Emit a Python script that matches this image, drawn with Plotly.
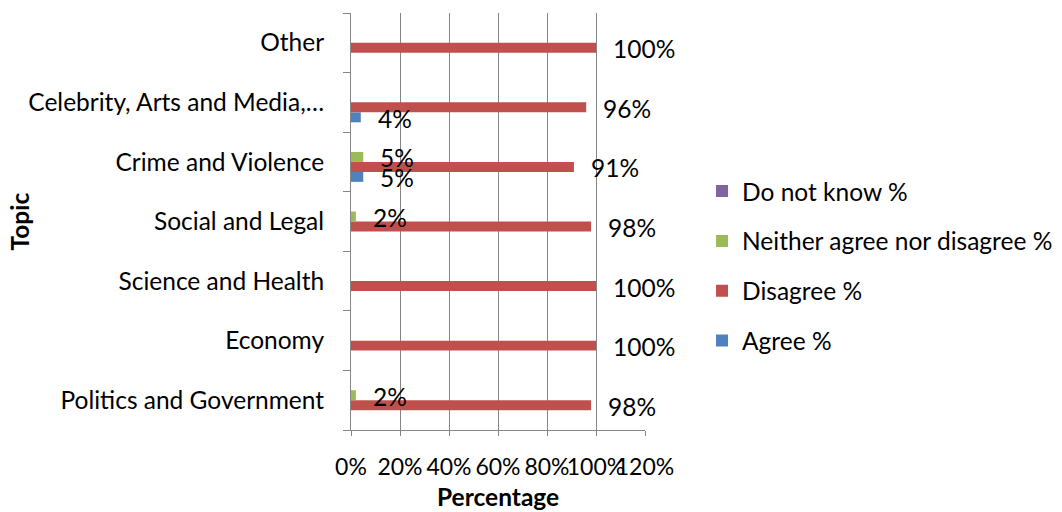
import plotly.graph_objects as go

# Topics, listed bottom to top
topics = [
    "Politics and Government",
    "Economy",
    "Science and Health",
    "Social and Legal",
    "Crime and Violence",
    "Celebrity, Arts and Media,…",
    "Other",
]

# Response shares (%) per topic
agree = [0, 0, 0, 0, 5, 4, 0]
disagree = [98, 100, 100, 98, 91, 96, 100]
neither = [2, 0, 0, 2, 5, 0, 0]
dont_know = [0, 0, 0, 0, 0, 0, 0]

x_ticks = [0, 20, 40, 60, 80, 100, 120]
x_tick_labels = ["0%", "20%", "40%", "60%", "80%", "100%", "120%"]

series = [
    ("Agree %", agree, "#4F81BD"),
    ("Disagree %", disagree, "#C0504D"),
    ("Neither agree nor disagree %", neither, "#9BBB59"),
    ("Do not know %", dont_know, "#8064A2"),
]

FONT = "Lato"
FS = 24.5
AXIS_GREY = "#868686"

fig = go.Figure()
for i, (name, vals, color) in enumerate(series):
    fig.add_trace(go.Bar(
        y=topics, x=vals, name=name, orientation="h",
        marker=dict(color=color, line=dict(width=0)),
        legendgroup=name, legendrank=len(series) - i,
    ))

# Data labels beside the bar ends, one slot per series within each group
slot_px = 10
annotations = []
for i, (name, vals, color) in enumerate(series):
    offset = (i - 1.5) * slot_px
    for topic, v in zip(topics, vals):
        if v:
            annotations.append(dict(
                x=v, y=topic, xref="x", yref="y", text=f"{v}%",
                showarrow=False, xanchor="left", yanchor="middle",
                xshift=15, yshift=offset - 1,
                font=dict(family=FONT, size=FS, color="#000"),
            ))

annotations.append(dict(
    x=0.5, y=-0.16, xref="paper", yref="paper", text="<b>Percentage</b>",
    showarrow=False, xanchor="center", yanchor="middle",
    font=dict(family=FONT, size=FS, color="#000"),
))
annotations.append(dict(
    x=-1.129, y=0.5, xref="paper", yref="paper", text="<b>Topic</b>",
    showarrow=False, xanchor="center", yanchor="middle", textangle=-90,
    font=dict(family=FONT, size=FS, color="#000"),
))

fig.update_layout(
    width=1062, height=512,
    margin=dict(l=351, r=417, t=13, b=82, autoexpand=False),
    paper_bgcolor="white", plot_bgcolor="white",
    barmode="group", bargap=0.33, bargroupgap=0,
    font=dict(family=FONT, size=FS, color="#000"),
    showlegend=True,
    legend=dict(
        x=1.194, y=0.393, xanchor="left", yanchor="middle",
        traceorder="grouped", tracegroupgap=15,
        font=dict(family=FONT, size=FS, color="#000"),
        bgcolor="rgba(0,0,0,0)",
    ),
    annotations=annotations,
    xaxis=dict(
        range=[0, 120], tickvals=x_ticks, ticktext=x_tick_labels,
        tickangle=0, automargin=False, tickfont=dict(size=23),
        showgrid=True, gridcolor=AXIS_GREY, gridwidth=1,
        showline=True, linecolor=AXIS_GREY, linewidth=1,
        ticks="outside", ticklen=5, tickcolor=AXIS_GREY,
        ticklabelstandoff=11, zeroline=False, fixedrange=True,
    ),
    yaxis=dict(
        range=[-0.5, 6.5], type="category", automargin=False,
        showgrid=False, showline=True, linecolor=AXIS_GREY, linewidth=1,
        ticks="outside", ticklen=7, tickcolor=AXIS_GREY,
        tickson="boundaries", ticklabelstandoff=21, fixedrange=True,
    ),
)

fig.write_html("out.html")
